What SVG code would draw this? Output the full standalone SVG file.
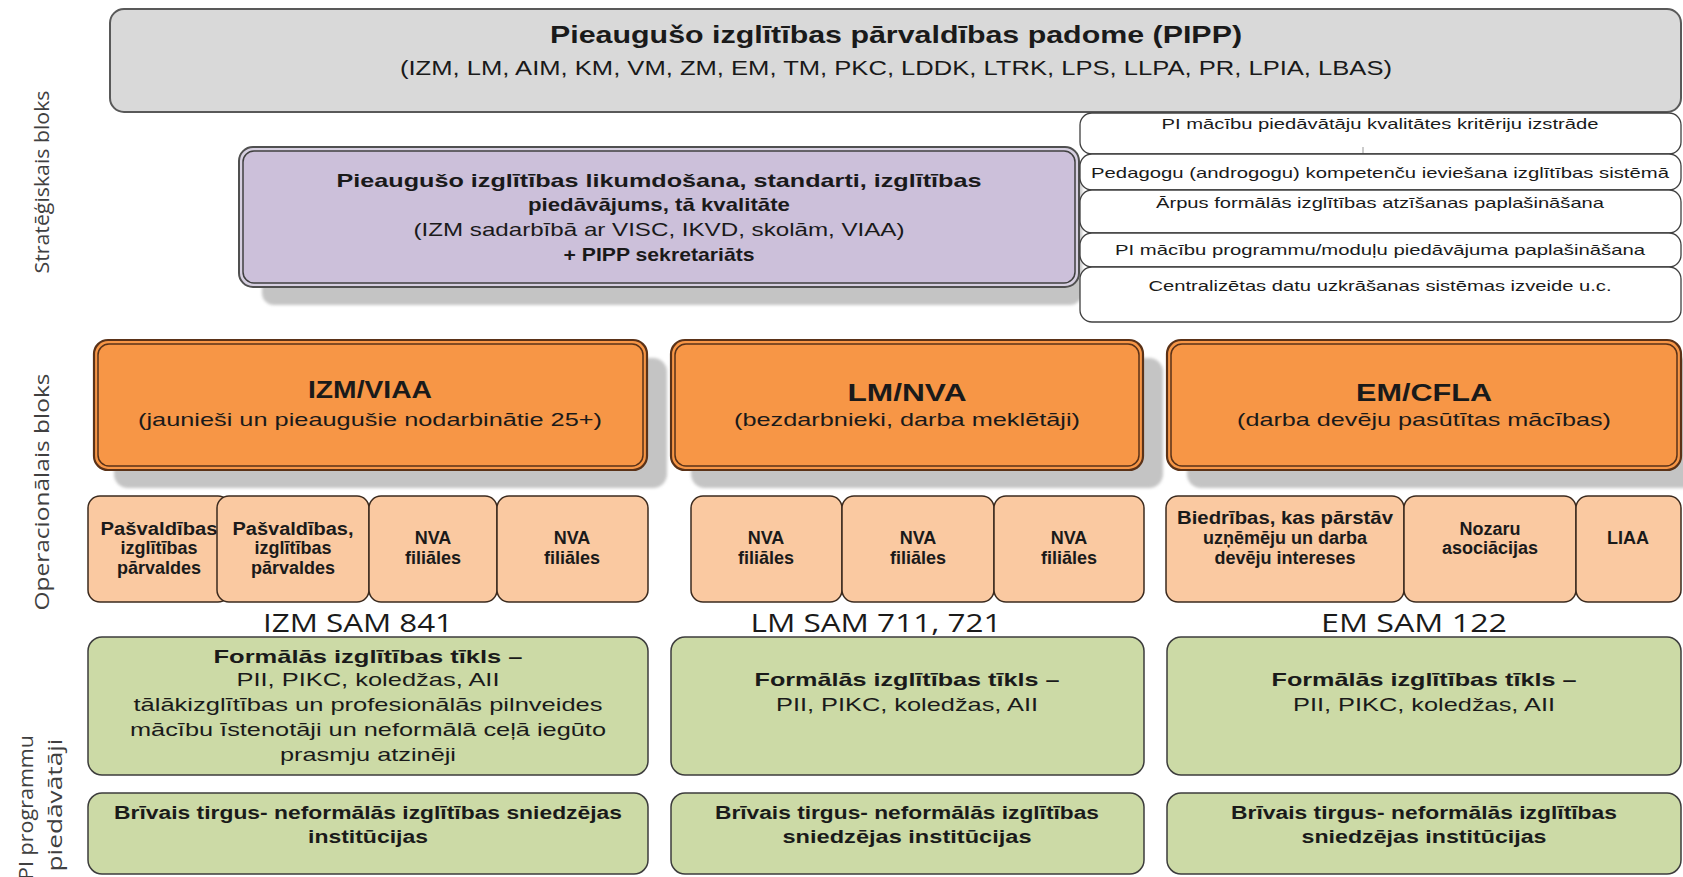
<svg xmlns="http://www.w3.org/2000/svg" width="1683" height="877" viewBox="0 0 1683 877">
<defs>
<filter id="blur" x="-10%" y="-10%" width="120%" height="120%"><feGaussianBlur stdDeviation="1.8"/></filter>
</defs>
<style>
.t{font-family:"Liberation Sans",Arial,sans-serif;fill:#1a1a1a;text-anchor:middle}
.b{font-weight:bold}
.lbl{font-family:"Open Sans","Noto Sans",sans-serif;fill:#404040;text-anchor:middle}
.sam{font-family:"Open Sans","Noto Sans",sans-serif;fill:#1a1a1a;text-anchor:middle;font-size:26px}
.sh{fill:#c4c4c4;filter:url(#blur)}
.top{fill:#d9d9d9;stroke:#595959;stroke-width:2}
.wh{fill:#ffffff;stroke:#404040;stroke-width:1.3}
.po{fill:#d6cfe0;stroke:#505050;stroke-width:2}
.pi{fill:#ccc0da;stroke:#404040;stroke-width:1.5}
.oo{fill:#f79646;stroke:#5a3218;stroke-width:2.2}
.oi{fill:#f79646;stroke:#5a3218;stroke-width:1.5}
.pe{fill:#fac9a1;stroke:#3b2a1e;stroke-width:1.5}
.gr{fill:#ccdaa6;stroke:#3c3c3c;stroke-width:1.5}
</style>
<rect x="0" y="0" width="1683" height="877" fill="#ffffff"/>

<g id="side-labels">
<text class="lbl" font-size="20" transform="translate(49,182) rotate(-90)" textLength="183" lengthAdjust="spacingAndGlyphs">Stratēģiskais bloks</text>
<text class="lbl" font-size="20" transform="translate(49,492) rotate(-90)" textLength="237" lengthAdjust="spacingAndGlyphs">Operacionālais bloks</text>
<text class="lbl" font-size="20" transform="translate(33,735) rotate(-90)" style="text-anchor:end" textLength="145" lengthAdjust="spacingAndGlyphs">PI programmu</text>
<text class="lbl" font-size="20" transform="translate(62,805) rotate(-90)" textLength="133" lengthAdjust="spacingAndGlyphs">piedāvātāji</text>
</g>

<g id="connectors"></g>

<g id="pipp">
<rect class="top" x="110" y="9" width="1571" height="103" rx="14"/>
<text class="t b" x="896" y="43" font-size="24" textLength="692" lengthAdjust="spacingAndGlyphs">Pieaugušo izglītības pārvaldības padome (PIPP)</text>
<text class="t" x="896" y="75" font-size="20" textLength="992" lengthAdjust="spacingAndGlyphs">(IZM, LM, AIM, KM, VM, ZM, EM, TM, PKC, LDDK, LTRK, LPS, LLPA, PR, LPIA, LBAS)</text>
</g>

<g id="izm-likumdosana">
<rect class="sh" x="262" y="166" width="820" height="139" rx="12"/>
<rect class="po" x="239" y="147" width="840" height="140" rx="14"/>
<rect class="pi" x="243" y="151" width="832" height="132" rx="11"/>
<text class="t b" x="659" y="187" font-size="19" textLength="645" lengthAdjust="spacingAndGlyphs">Pieaugušo izglītības likumdošana, standarti, izglītības</text>
<text class="t b" x="659" y="211" font-size="19" textLength="262" lengthAdjust="spacingAndGlyphs">piedāvājums, tā kvalitāte</text>
<text class="t" x="659" y="236" font-size="19" textLength="491" lengthAdjust="spacingAndGlyphs">(IZM sadarbībā ar VISC, IKVD, skolām, VIAA)</text>
<text class="t b" x="659" y="261" font-size="19" textLength="191" lengthAdjust="spacingAndGlyphs">+ PIPP sekretariāts</text>
</g>

<g id="tasks">
<g id="task-1">
<rect class="wh" x="1080" y="113" width="601" height="41" rx="12"/>
<text class="t" x="1380" y="129" font-size="15" textLength="437" lengthAdjust="spacingAndGlyphs">PI mācību piedāvātāju kvalitātes kritēriju izstrāde</text>
<line x1="1363" y1="147" x2="1363" y2="153" stroke="#999" stroke-width="1"/>
</g>
<g id="task-2">
<rect class="wh" x="1080" y="154" width="601" height="36" rx="12"/>
<text class="t" x="1380" y="177.5" font-size="15" textLength="578" lengthAdjust="spacingAndGlyphs">Pedagogu (androgogu) kompetenču ieviešana izglītības sistēmā</text>
</g>
<g id="task-3">
<rect class="wh" x="1080" y="190" width="601" height="43" rx="12"/>
<text class="t" x="1380" y="207.5" font-size="15" textLength="448" lengthAdjust="spacingAndGlyphs">Ārpus formālās izglītības atzīšanas paplašināšana</text>
</g>
<g id="task-4">
<rect class="wh" x="1080" y="233" width="601" height="34" rx="12"/>
<text class="t" x="1380" y="254.5" font-size="15" textLength="530" lengthAdjust="spacingAndGlyphs">PI mācību programmu/moduļu piedāvājuma paplašināšana</text>
</g>
<g id="task-5">
<rect class="wh" x="1080" y="267" width="601" height="55" rx="12"/>
<text class="t" x="1380" y="291" font-size="15" textLength="463" lengthAdjust="spacingAndGlyphs">Centralizētas datu uzkrāšanas sistēmas izveide u.c.</text>
</g>
</g>

<g id="izm-viaa">
<rect class="sh" x="114" y="358" width="553" height="130" rx="14"/>
<rect class="oo" x="94" y="340" width="553" height="130" rx="14"/>
<rect class="oi" x="98" y="344" width="545" height="122" rx="11"/>
<text class="t b" x="370" y="398" font-size="23" textLength="124" lengthAdjust="spacingAndGlyphs">IZM/VIAA</text>
<text class="t" x="370" y="426" font-size="19" textLength="464" lengthAdjust="spacingAndGlyphs">(jaunieši un pieaugušie nodarbinātie 25+)</text>
</g>
<g id="lm-nva">
<rect class="sh" x="691" y="358" width="472" height="130" rx="14"/>
<rect class="oo" x="671" y="340" width="472" height="130" rx="14"/>
<rect class="oi" x="675" y="344" width="464" height="122" rx="11"/>
<text class="t b" x="907" y="401" font-size="23" textLength="119" lengthAdjust="spacingAndGlyphs">LM/NVA</text>
<text class="t" x="907" y="426" font-size="19" textLength="346" lengthAdjust="spacingAndGlyphs">(bezdarbnieki, darba meklētāji)</text>
</g>
<g id="em-cfla">
<rect class="sh" x="1187" y="358" width="514" height="130" rx="14"/>
<rect class="oo" x="1167" y="340" width="514" height="130" rx="14"/>
<rect class="oi" x="1171" y="344" width="506" height="122" rx="11"/>
<text class="t b" x="1424" y="401" font-size="23" textLength="136" lengthAdjust="spacingAndGlyphs">EM/CFLA</text>
<text class="t" x="1424" y="426" font-size="19" textLength="374" lengthAdjust="spacingAndGlyphs">(darba devēju pasūtītas mācības)</text>
</g>

<g id="izm-units">
<g id="izm-u1"><rect class="pe" x="88" y="496" width="142" height="106" rx="12"/>
<text class="t b" x="159" font-size="18"><tspan x="159" y="535" textLength="117" lengthAdjust="spacingAndGlyphs">Pašvaldības</tspan><tspan x="159" y="554">izglītības</tspan><tspan x="159" y="574">pārvaldes</tspan></text></g>
<g id="izm-u2"><rect class="pe" x="217" y="496" width="152" height="106" rx="12"/>
<text class="t b" x="293" font-size="18"><tspan x="293" y="535" textLength="121" lengthAdjust="spacingAndGlyphs">Pašvaldības,</tspan><tspan x="293" y="554">izglītības</tspan><tspan x="293" y="574">pārvaldes</tspan></text></g>
<g id="izm-u3"><rect class="pe" x="369" y="496" width="128" height="106" rx="12"/>
<text class="t b" x="433" font-size="18"><tspan x="433" y="544">NVA</tspan><tspan x="433" y="564">filiāles</tspan></text></g>
<g id="izm-u4"><rect class="pe" x="497" y="496" width="151" height="106" rx="12"/>
<text class="t b" x="572" font-size="18"><tspan x="572" y="544">NVA</tspan><tspan x="572" y="564">filiāles</tspan></text></g>
</g>

<g id="lm-units">
<g id="lm-u1"><rect class="pe" x="691" y="496" width="151" height="106" rx="12"/>
<text class="t b" x="766" font-size="18"><tspan x="766" y="544">NVA</tspan><tspan x="766" y="564">filiāles</tspan></text></g>
<g id="lm-u2"><rect class="pe" x="842" y="496" width="152" height="106" rx="12"/>
<text class="t b" x="918" font-size="18"><tspan x="918" y="544">NVA</tspan><tspan x="918" y="564">filiāles</tspan></text></g>
<g id="lm-u3"><rect class="pe" x="994" y="496" width="150" height="106" rx="12"/>
<text class="t b" x="1069" font-size="18"><tspan x="1069" y="544">NVA</tspan><tspan x="1069" y="564">filiāles</tspan></text></g>
</g>

<g id="em-units">
<g id="em-u1"><rect class="pe" x="1166" y="496" width="238" height="106" rx="12"/>
<text class="t b" x="1285" font-size="18"><tspan x="1285" y="524" textLength="216" lengthAdjust="spacingAndGlyphs">Biedrības, kas pārstāv</tspan><tspan x="1285" y="544">uzņēmēju un darba</tspan><tspan x="1285" y="564">devēju intereses</tspan></text></g>
<g id="em-u2"><rect class="pe" x="1404" y="496" width="172" height="106" rx="12"/>
<text class="t b" x="1490" font-size="18"><tspan x="1490" y="535">Nozaru</tspan><tspan x="1490" y="554">asociācijas</tspan></text></g>
<g id="em-u3"><rect class="pe" x="1576" y="496" width="105" height="106" rx="12"/>
<text class="t b" x="1628" y="544" font-size="18">LIAA</text></g>
</g>

<g id="sam-labels">
<text class="sam" x="358" y="632" textLength="190" lengthAdjust="spacingAndGlyphs">IZM SAM 841</text>
<text class="sam" x="876" y="632" textLength="251" lengthAdjust="spacingAndGlyphs">LM SAM 711, 721</text>
<text class="sam" x="1414" y="632" textLength="186" lengthAdjust="spacingAndGlyphs">EM SAM 122</text>
</g>

<g id="izm-formal">
<rect class="gr" x="88" y="637" width="560" height="138" rx="14"/>
<text class="t b" x="368" y="663" font-size="19" textLength="309" lengthAdjust="spacingAndGlyphs">Formālās izglītības tīkls –</text>
<text class="t" x="368" y="686" font-size="19" textLength="263" lengthAdjust="spacingAndGlyphs">PII, PIKC, koledžas, AII</text>
<text class="t" x="368" y="711" font-size="19" textLength="469" lengthAdjust="spacingAndGlyphs">tālākizglītības un profesionālās pilnveides</text>
<text class="t" x="368" y="736" font-size="19" textLength="476" lengthAdjust="spacingAndGlyphs">mācību īstenotāji un neformālā ceļā iegūto</text>
<text class="t" x="368" y="761" font-size="19" textLength="176" lengthAdjust="spacingAndGlyphs">prasmju atzinēji</text>
</g>
<g id="lm-formal">
<rect class="gr" x="671" y="637" width="473" height="138" rx="14"/>
<text class="t b" x="907" y="686" font-size="19" textLength="305" lengthAdjust="spacingAndGlyphs">Formālās izglītības tīkls –</text>
<text class="t" x="907" y="711" font-size="19" textLength="262" lengthAdjust="spacingAndGlyphs">PII, PIKC, koledžas, AII</text>
</g>
<g id="em-formal">
<rect class="gr" x="1167" y="637" width="514" height="138" rx="14"/>
<text class="t b" x="1424" y="686" font-size="19" textLength="305" lengthAdjust="spacingAndGlyphs">Formālās izglītības tīkls –</text>
<text class="t" x="1424" y="711" font-size="19" textLength="262" lengthAdjust="spacingAndGlyphs">PII, PIKC, koledžas, AII</text>
</g>

<g id="izm-market">
<rect class="gr" x="88" y="793" width="560" height="81" rx="14"/>
<text class="t b" x="368" y="819" font-size="18" textLength="508" lengthAdjust="spacingAndGlyphs">Brīvais tirgus- neformālās izglītības sniedzējas</text>
<text class="t b" x="368" y="843" font-size="18" textLength="120" lengthAdjust="spacingAndGlyphs">institūcijas</text>
</g>
<g id="lm-market">
<rect class="gr" x="671" y="793" width="473" height="81" rx="14"/>
<text class="t b" x="907" y="819" font-size="18" textLength="384" lengthAdjust="spacingAndGlyphs">Brīvais tirgus- neformālās izglītības</text>
<text class="t b" x="907" y="843" font-size="18" textLength="249" lengthAdjust="spacingAndGlyphs">sniedzējas institūcijas</text>
</g>
<g id="em-market">
<rect class="gr" x="1167" y="793" width="514" height="81" rx="14"/>
<text class="t b" x="1424" y="819" font-size="18" textLength="386" lengthAdjust="spacingAndGlyphs">Brīvais tirgus- neformālās izglītības</text>
<text class="t b" x="1424" y="843" font-size="18" textLength="245" lengthAdjust="spacingAndGlyphs">sniedzējas institūcijas</text>
</g>
</svg>
